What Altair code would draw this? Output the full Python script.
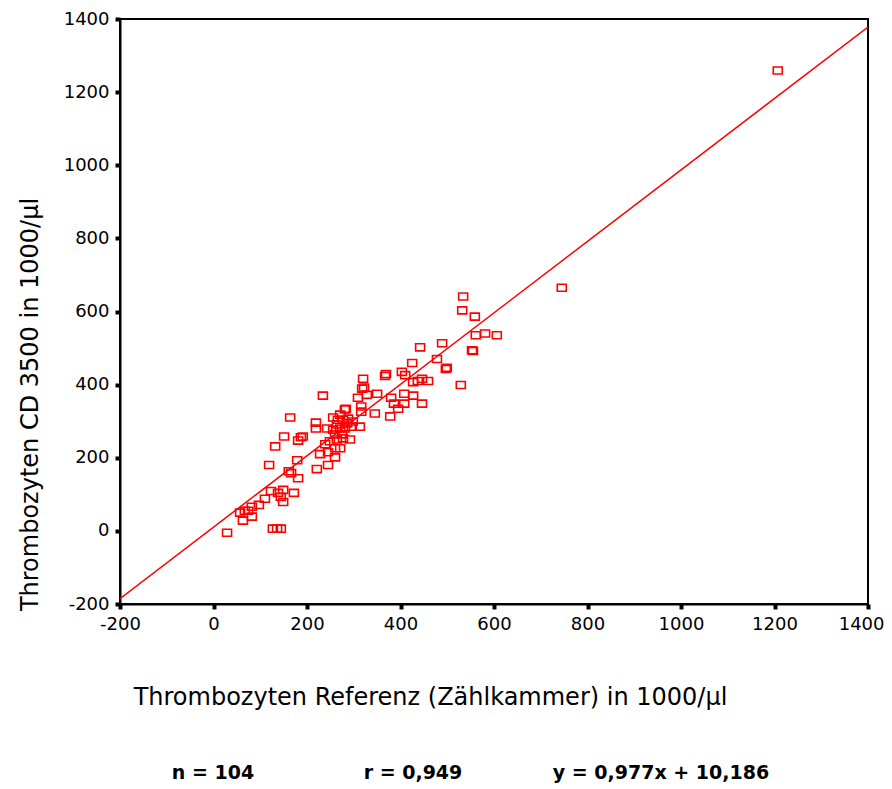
import altair as alt
import pandas as pd

# Reference count (x) vs CD 3500 count (y)
ref_x = [1207, 745, 534, 532, 559, 561, 581, 606, 489, 442,
         553, 555, 478, 425, 497, 499, 529, 403, 410, 369,
         367, 427, 437, 446, 459, 320, 318, 322, 328, 309,
         350, 234, 380, 408, 427, 386, 408, 446, 395, 378,
         316, 316, 345, 283, 256, 164, 219, 219, 243, 313,
         191, 151, 187, 181, 132, 228, 245, 245, 260, 179,
         221, 119, 161, 166, 181, 172, 123, 138, 149, 144,
         149, 110, 97, 82, 67, 57, 74, 63, 82, 29,
         127, 136, 144, 239,
         281, 271, 266, 277, 288, 264, 286, 298, 256, 271,
         281, 296, 260, 275, 249, 264, 277, 292, 260, 271]
cd_y = [1259, 665, 641, 603, 586, 535, 540, 535, 513, 502,
        494, 492, 470, 459, 443, 446, 399, 435, 426, 429,
        424, 407, 410, 416, 410, 416, 389, 392, 372, 364,
        375, 370, 364, 375, 370, 348, 348, 348, 334, 313,
        340, 326, 321, 334, 310, 310, 296, 280, 280, 285,
        258, 258, 256, 247, 231, 210, 215, 180, 201, 193,
        169, 180, 163, 158, 144, 104, 109, 104, 112, 93,
        79, 88, 71, 66, 55, 50, 55, 28, 39, -5,
        6, 6, 6, 237,
        332, 318, 304, 304, 307, 291, 294, 299, 277, 280,
        280, 285, 264, 264, 245, 250, 253, 250, 226, 226]

line_x = [-200, 1400]
slope = 0.977
intercept = 10.186

axis_ticks = [-200, 0, 200, 400, 600, 800, 1000, 1200, 1400]
x_title = "Thrombozyten Referenz (Zählkammer) in 1000/µl"
y_title = "Thrombozyten CD 3500 in 1000/µl"
notes = ["n = 104", "r = 0,949", "y = 0,977x + 10,186"]

pts = pd.DataFrame({"ref": ref_x, "cd": cd_y})
lin = pd.DataFrame({"ref": line_x})

RED = "#ff0000"
FONT = "DejaVu Sans"

xscale = alt.Scale(domain=[-200, 1400], nice=False, zero=False)
yscale = alt.Scale(domain=[-200, 1400], nice=False, zero=False)

common = dict(
    values=axis_ticks, grid=False,
    labelExpr="datum.value < 0 ? '-' + abs(datum.value) : '' + datum.value",
    domainColor="black", domainWidth=2,
    tickColor="black", tickSize=5, tickWidth=4,
    labelFont=FONT, labelFontSize=18, labelColor="black", labelPadding=6,
    labelFlush=False,
    titleFont=FONT, titleFontSize=24, titleFontWeight="normal", titleColor="black",
    titleBaseline="middle", titleAlign="center",
)
xaxis = alt.Axis(
    title=x_title, titleX=310, titleY=93,
    labelAlign={"condition": {"test": "datum.value == 1400", "value": "right"}, "value": "center"},
    labelOffset={"condition": {"test": "datum.value == 1400", "value": 16}, "value": 0},
    **common,
)
yaxis = alt.Axis(title=y_title, titleX=-90, titleY=385, titleAngle=270, **common)

points = alt.Chart(pts).mark_point(
    shape="M-1,-0.78L1,-0.78L1,0.78L-1,0.78Z", size=81, filled=False,
    color=RED, strokeWidth=1.6, opacity=1
).encode(
    x=alt.X("ref:Q", scale=xscale, axis=xaxis),
    y=alt.Y("cd:Q", scale=yscale, axis=yaxis),
)

fit = alt.Chart(lin).transform_calculate(
    cd=f"{slope}*datum.ref + {intercept}"
).mark_line(color=RED, strokeWidth=1.5, clip=True).encode(
    x=alt.X("ref:Q", scale=xscale),
    y=alt.Y("cd:Q", scale=yscale),
)

note_df = pd.DataFrame({"t": notes, "px": [93, 293, 541]})
note_layer = alt.Chart(note_df).mark_text(
    font=FONT, fontSize=19, fontWeight="bold", color="black",
    align="center", baseline="middle"
).encode(
    text="t:N",
    x=alt.X("px:Q", scale=None),
    y=alt.value(754),
)

chart = alt.layer(fit, points, note_layer).properties(
    width=748, height=585,
    background="white",
    autosize=alt.AutoSizeParams(type="none"),
    padding={"left": 112, "top": 11, "right": 16, "bottom": 180},
).configure_view(
    stroke="black", strokeWidth=2, fill="white"
)

chart.save("out.html", embed_options={"renderer": "svg", "actions": False})
